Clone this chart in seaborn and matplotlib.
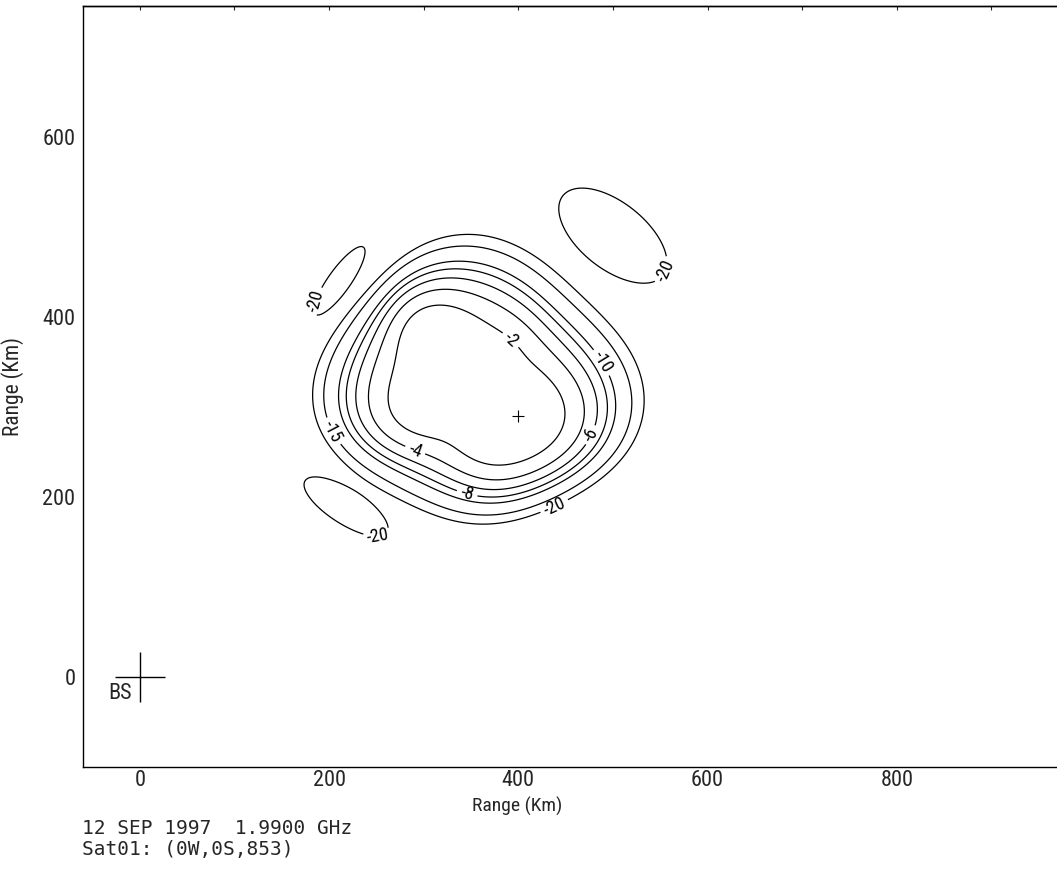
import numpy as np
import matplotlib
matplotlib.use("Agg")
import matplotlib.pyplot as plt
import seaborn as sns
from matplotlib import font_manager

# ---------------- beam footprint description (km) ----------------
# Radius of the -2 dB and -20 dB main-lobe contours, measured from the
# footprint centre along compass bearings (counter-clockwise from +x).
bearings_deg = [0, 30, 60, 90, 120, 150, 180, 210, 240, 270, 300, 330]
radius_2db = [85, 63, 66, 78, 103, 94, 92, 88, 70, 81, 96, 102]
radius_20db = [177, 155, 154, 169, 163, 158, 172, 163, 148, 152, 156, 172]
footprint_center = [355, 322]
profile_exponent = 6

# Sidelobes reaching above -20 dB: centre, -20 dB semi-axes, tilt, peak
sidelobe_x = [211, 500, 218]
sidelobe_y = [440, 490, 189]
sidelobe_len = [45, 69, 52]
sidelobe_wid = [12, 36, 19]
sidelobe_tilt = [56, -41, -34]
sidelobe_peak = [-16.0, -16.0, -16.0]

contour_levels = [-20, -15, -10, -8, -6, -4, -2]
label_level = [-20, -15, -10, -8, -6, -4, -2, -20, -20, -20]
label_x = [437, 199, 488, 345, 472, 289, 391, 183, 557, 252]
label_y = [192, 270, 349, 200, 271, 246, 373, 418, 450, 155]

aim_point = [400, 290]
base_station = [0, 0]
x_major = [0, 200, 400, 600, 800]
x_minor = [100, 300, 500, 700, 900]
y_major = [0, 200, 400, 600]
y_minor = [100, 300, 500, 700]
x_range = [-60, 1000]
y_range = [-100, 745]
date_line = "12 SEP 1997  1.9900 GHz"
sat_line = "Sat01: (0W,0S,853)"

# ---------------- fonts ----------------
sns.set_style("white")


def narrow_family():
    entries = font_manager.fontManager.ttflist
    names = {f.name for f in entries}
    for nm in ["Liberation Sans Narrow", "Roboto Condensed", "Open Sans Condensed",
               "Noto Sans Condensed", "DejaVu Sans Condensed"]:
        if nm in names:
            return nm, "normal"
    for nm in ["DejaVu Sans", "Noto Sans", "Roboto", "Open Sans", "Liberation Sans"]:
        for f in entries:
            if f.name == nm and f.style == "normal" and str(f.stretch) in (
                    "condensed", "semi-condensed", "extra-condensed"):
                return nm, str(f.stretch)
    return None, "normal"


fam, stretch = narrow_family()
if fam is not None:
    plot_font, tick_size, xlabel_size, ylabel_size, clabel_size = fam, 16, 14, 15.5, 13
else:
    plot_font, tick_size, xlabel_size, ylabel_size, clabel_size = "DejaVu Sans", 14, 12, 13, 11
plt.rcParams["font.family"] = [plot_font, "DejaVu Sans"]
plt.rcParams["font.stretch"] = stretch
plt.rcParams["axes.edgecolor"] = "black"
plt.rcParams["axes.linewidth"] = 1.0


# ---------------- gain field ----------------
def footprint_radius(phi, radii):
    n = len(radii)
    coef = np.fft.rfft(np.asarray(radii, float)) / n
    rad = np.full_like(phi, coef[0].real)
    for k in range(1, n // 2):
        rad += 2 * (coef[k].real * np.cos(k * phi) - coef[k].imag * np.sin(k * phi))
    return rad


gx = np.arange(x_range[0], x_range[1] + 1, 1.0)
gy = np.arange(y_range[0], y_range[1] + 1, 1.0)
X, Y = np.meshgrid(gx, gy)
dx = X - footprint_center[0]
dy = Y - footprint_center[1]
r = np.hypot(dx, dy)
phi = np.arctan2(dy, dx)
r2 = footprint_radius(phi, radius_2db)
r20 = footprint_radius(phi, radius_20db)

p = profile_exponent
u2, u20 = 2 ** (1 / p), 20 ** (1 / p)
u = np.clip(u2 + (r - r2) / (r20 - r2) * (u20 - u2), 0, None)
with np.errstate(under="ignore", over="ignore"):
    power = 10 ** (-(u ** p) / 10)
    for sx, sy, sl, sw, st, sp in zip(sidelobe_x, sidelobe_y, sidelobe_len,
                                      sidelobe_wid, sidelobe_tilt, sidelobe_peak):
        q = (sp + 20) / 10 * np.log(10)
        t = np.radians(st)
        a = (X - sx) * np.cos(t) + (Y - sy) * np.sin(t)
        b = -(X - sx) * np.sin(t) + (Y - sy) * np.cos(t)
        power += 10 ** (sp / 10) * np.exp(-q * ((a / sl) ** 2 + (b / sw) ** 2))
gain_db = 10 * np.log10(power + 1e-30)

# ---------------- figure ----------------
fig = plt.figure(figsize=(10.57, 8.73), dpi=100)
ax = fig.add_axes([83 / 1057, 106 / 873, 1003 / 1057, 761 / 873])

# one contour set per level so each label lands on its own level
level_sets = {lv: ax.contour(X, Y, gain_db, levels=[lv], colors="black",
                             linewidths=0.9, linestyles="solid")
              for lv in contour_levels}
for lv, lx, ly in zip(label_level, label_x, label_y):
    level_sets[lv].clabel(fmt={lv: f"{lv:d}"}, manual=[(lx, ly)], inline=True,
                          inline_spacing=4, fontsize=clabel_size, colors="black")

sns.scatterplot(x=[base_station[0]], y=[base_station[1]], marker="+", s=36 ** 2,
                color="black", linewidth=1.0, ax=ax, legend=False)
sns.scatterplot(x=[aim_point[0]], y=[aim_point[1]], marker="+", s=9 ** 2,
                color="black", linewidth=0.8, ax=ax, legend=False)
ax.text(base_station[0] - 8, base_station[1] - 7, "BS", ha="right", va="top",
        fontsize=tick_size)

ax.set_xlim(*x_range)
ax.set_ylim(*y_range)
ax.set_xticks(x_major)
ax.set_xticks(x_minor, minor=True)
ax.set_yticks(y_major)
ax.set_yticks(y_minor, minor=True)
ax.set_xticklabels([str(v) for v in x_major])
ax.set_yticklabels([str(v) for v in y_major])
ax.tick_params(axis="x", which="major", direction="in", length=5.5, width=0.8,
               pad=2.5, labelsize=tick_size)
ax.tick_params(axis="x", which="minor", direction="in", length=2.5, width=0.8)
ax.tick_params(axis="y", which="both", direction="in", length=3, width=0.8,
               pad=5.5, labelsize=tick_size)

top = ax.secondary_xaxis("top")
top.set_xticks(sorted(x_major + x_minor))
top.tick_params(direction="in", length=3, width=0.8, labeltop=False)

ax.set_xlabel("Range (Km)", fontsize=xlabel_size)
ax.set_ylabel("Range (Km)", fontsize=ylabel_size)
ax.xaxis.set_label_coords(0.4327, -0.039)
ax.yaxis.set_label_coords(-0.0588, 0.5)

fig.text(82 / 1057, 1 - 819 / 873, date_line + "\n" + sat_line, ha="left", va="top",
         family=["DejaVu Sans Mono"], fontsize=14, linespacing=1.1)

fig.savefig("out.png", dpi=100)
